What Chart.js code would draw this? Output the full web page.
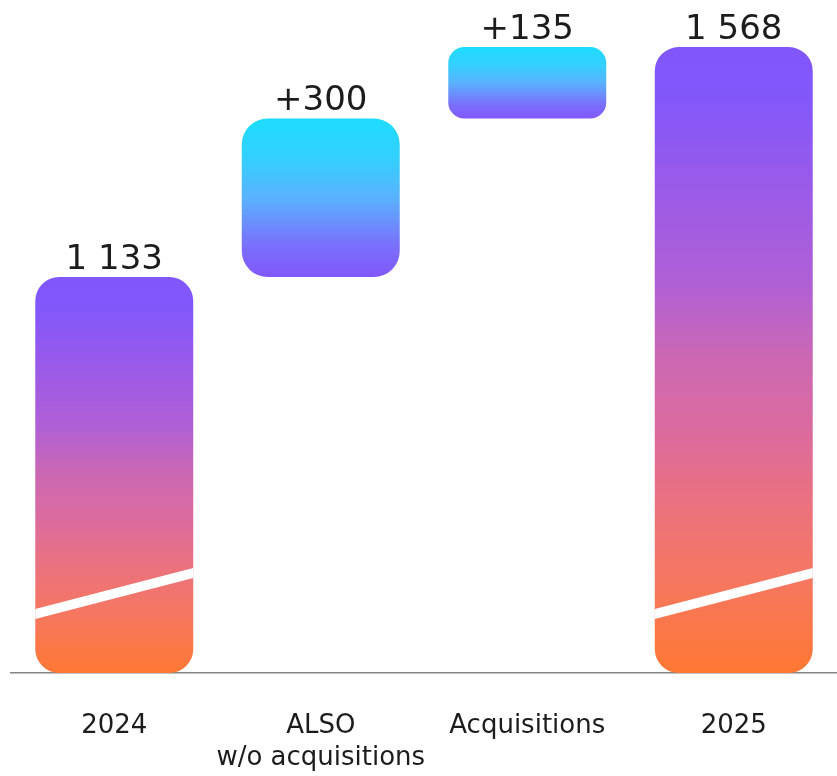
<!DOCTYPE html>
<html lang="en">
<head>
	<meta charset="utf-8" />
	<title>Sales bridge 2024 - 2025</title>
	<style>
		html, body { margin: 0; padding: 0; background: #fff; }
		#wrap { width: 837px; height: 776px; }
	</style>
</head>
<body>
	<div id="wrap"><canvas id="bridge"></canvas></div>

	<script src="https://cdn.jsdelivr.net/npm/chart.js@4.4.1/dist/chart.umd.min.js"></script>
	<script>
		// categories and values of the bridge
		const categories = ['2024', ['ALSO', 'w/o acquisitions'], 'Acquisitions', '2025'];
		const barValues = [1133, 300, 135, 1568];
		const barKinds = ['total', 'delta', 'delta', 'total'];

		// visible range of the (broken) value axis
		const axisMin = 384;
		const axisMax = 1657;

		// floating bars for the steps, plain bars for the totals
		let running = 0;
		const series = barValues.map((v, i) => {
			if (barKinds[i] === 'total') {
				running = v;
				return v;
			}
			const from = running;
			running += v;
			return [from, running];
		});

		function labelText(i) {
			const v = barValues[i];
			const s = String(v).replace(/\B(?=(\d{3})+(?!\d))/g, ' ');
			return barKinds[i] === 'delta' ? '+' + s : s;
		}

		function barFill(ctx) {
			const chart = ctx.chart;
			const y = chart.scales.y;
			if (!chart.chartArea || !y) return '#8257fa';
			const raw = ctx.raw;
			const hi = Array.isArray(raw) ? Math.max(raw[0], raw[1]) : raw;
			const lo = Array.isArray(raw) ? Math.min(raw[0], raw[1]) : axisMin;
			const top = y.getPixelForValue(hi);
			const bottom = y.getPixelForValue(lo);
			const g = chart.ctx.createLinearGradient(0, top, 0, bottom);
			if (barKinds[ctx.dataIndex] === 'total') {
				g.addColorStop(0, '#8156fb');
				g.addColorStop(0.08, '#8257fa');
				g.addColorStop(0.23, '#9b5ae8');
				g.addColorStop(0.38, '#b060d5');
				g.addColorStop(0.5, '#cc68b2');
				g.addColorStop(0.62, '#dc6b9c');
				g.addColorStop(0.74, '#ec727c');
				g.addColorStop(0.86, '#f6775e');
				g.addColorStop(1, '#ff7833');
			} else {
				g.addColorStop(0, '#1edcff');
				g.addColorStop(0.25, '#34d0ff');
				g.addColorStop(0.5, '#5ab2ff');
				g.addColorStop(0.8, '#7a70fc');
				g.addColorStop(1, '#8257fa');
			}
			return g;
		}

		// value labels above each bar
		const valueLabels = {
			id: 'valueLabels',
			afterDatasetsDraw(chart) {
				const c = chart.ctx;
				const meta = chart.getDatasetMeta(0);
				c.save();
				c.font = '34px "DejaVu Sans"';
				c.fillStyle = '#1c1c1c';
				c.textAlign = 'center';
				c.textBaseline = 'alphabetic';
				meta.data.forEach((bar, i) => {
					const top = Math.min(bar.y, bar.base);
					c.fillText(labelText(i), bar.x, top - 8);
				});
				c.restore();
			}
		};

		// white slanted stripe marking the axis break on the total bars
		const axisBreak = {
			id: 'axisBreak',
			afterDatasetsDraw(chart) {
				const c = chart.ctx;
				const meta = chart.getDatasetMeta(0);
				c.save();
				c.fillStyle = '#ffffff';
				meta.data.forEach((bar, i) => {
					if (barKinds[i] !== 'total') return;
					const l = bar.x - bar.width / 2;
					const r = bar.x + bar.width / 2;
					const base = Math.max(bar.y, bar.base);
					c.beginPath();
					c.moveTo(l, base - 64);
					c.lineTo(r, base - 105);
					c.lineTo(r, base - 95);
					c.lineTo(l, base - 54);
					c.closePath();
					c.fill();
				});
				c.restore();
			}
		};

		const ctx = document.querySelector('#bridge').getContext('2d');
		new Chart(ctx, {
			type: 'bar',
			data: {
				labels: categories,
				datasets: [{
					data: series,
					base: axisMin,
					backgroundColor: barFill,
					borderWidth: 0,
					borderSkipped: false,
					borderRadius: [24, 26, 16, 24],
					barPercentage: 0.765,
					categoryPercentage: 1
				}]
			},
			options: {
				responsive: true,
				maintainAspectRatio: false,
				animation: false,
				layout: { padding: { left: 11, right: -5, top: 0, bottom: 0 } },
				plugins: {
					legend: { display: false },
					tooltip: { enabled: false }
				},
				scales: {
					x: {
						grid: { display: false },
						border: { display: true, color: '#858585', width: 1.5 },
						ticks: {
							color: '#1c1c1c',
							padding: 29,
							maxRotation: 0,
							autoSkip: false,
							font: { family: '"DejaVu Sans"', size: 26, lineHeight: 1.24 }
						},
						afterFit(scale) { scale.height = 103; }
					},
					y: {
						display: false,
						min: axisMin,
						max: axisMax
					}
				}
			},
			plugins: [axisBreak, valueLabels]
		});
	</script>
</body>
</html>
